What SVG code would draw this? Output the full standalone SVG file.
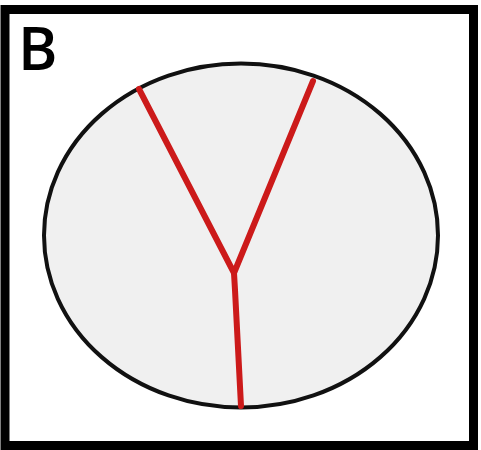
<svg xmlns="http://www.w3.org/2000/svg" width="481" height="450" viewBox="0 0 481 450">
<style>
.frame{fill:#fff;stroke:#000;stroke-width:9}
.cell{fill:#f0f0f0;stroke:#111;stroke-width:4}
.red{fill:none;stroke:#cc1a1a;stroke-width:6;stroke-linecap:round;stroke-linejoin:round}
.lbl{font-family:"Open Sans","DejaVu Sans",sans-serif;font-size:60px;font-weight:600;fill:#000}
</style>
<rect x="0" y="0" width="481" height="450" fill="#fff"/>
<g id="frame"><rect class="frame" x="5" y="9.5" width="468.5" height="436"/></g>
<g id="label"><text class="lbl" x="18" y="70">B</text></g>
<g id="cell"><ellipse class="cell" cx="241" cy="235.5" rx="197" ry="172"/></g>
<g id="connectors">
<polyline class="red" points="139,89 234,273 313,81"/>
<polyline class="red" points="234,273 235,290 241,406"/>
</g>
</svg>
